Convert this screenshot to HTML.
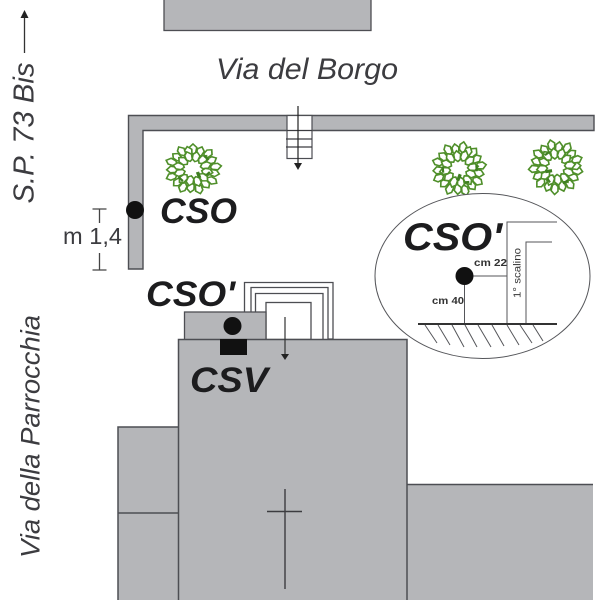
<!DOCTYPE html>
<html><head><meta charset="utf-8"><style>
html,body{margin:0;padding:0;background:#fff;width:600px;height:600px;overflow:hidden}
svg{display:block}
text{font-family:"Liberation Sans",sans-serif}
</style></head><body>
<svg width="600" height="600" viewBox="0 0 600 600" xmlns="http://www.w3.org/2000/svg">
<defs>
<path id="lf" d="M0 -5 L3.4 -1.5 L2.4 3.5 L0 5 L-2.8 2.5 L-3 -2 Z" fill="#fff" stroke="#4f8f2a" stroke-width="1.5"/>
<g id="tree">
<use href="#lf" transform="rotate(0) translate(0 -20)"/><use href="#lf" transform="rotate(20) translate(0 -18.5)"/><use href="#lf" transform="rotate(41) translate(0 -20.5)"/><use href="#lf" transform="rotate(62) translate(0 -18.5)"/><use href="#lf" transform="rotate(83) translate(0 -20.5)"/><use href="#lf" transform="rotate(102) translate(0 -19)"/><use href="#lf" transform="rotate(124) translate(0 -20.5)"/><use href="#lf" transform="rotate(143) translate(0 -18.5)"/><use href="#lf" transform="rotate(165) translate(0 -20.5)"/><use href="#lf" transform="rotate(186) translate(0 -18.5)"/><use href="#lf" transform="rotate(206) translate(0 -20.5)"/><use href="#lf" transform="rotate(226) translate(0 -19)"/><use href="#lf" transform="rotate(248) translate(0 -20.5)"/><use href="#lf" transform="rotate(268) translate(0 -18.5)"/><use href="#lf" transform="rotate(290) translate(0 -20.5)"/><use href="#lf" transform="rotate(310) translate(0 -18.5)"/><use href="#lf" transform="rotate(330) translate(0 -20.5)"/><use href="#lf" transform="rotate(347) translate(0 -18)"/>
<use href="#lf" transform="rotate(12) translate(0 -12.5)"/><use href="#lf" transform="rotate(42) translate(0 -13)"/><use href="#lf" transform="rotate(72) translate(0 -12)"/><use href="#lf" transform="rotate(102) translate(0 -13)"/><use href="#lf" transform="rotate(132) translate(0 -12.5)"/><use href="#lf" transform="rotate(162) translate(0 -13)"/><use href="#lf" transform="rotate(192) translate(0 -12)"/><use href="#lf" transform="rotate(222) translate(0 -13)"/><use href="#lf" transform="rotate(252) translate(0 -12.5)"/><use href="#lf" transform="rotate(282) translate(0 -13)"/><use href="#lf" transform="rotate(312) translate(0 -12)"/><use href="#lf" transform="rotate(342) translate(0 -13)"/>
<path d="M4 3 L6 9" stroke="#3f7f22" stroke-width="3" fill="none"/>
<path d="M10 -13 L14 -9 M-13 8 L-9 12 M12 6 L15 3" stroke="#3f7f22" stroke-width="2" fill="none"/>
</g>
</defs>
<rect width="600" height="600" fill="#fff"/>

<!-- top building -->
<rect x="164" y="-3" width="207" height="33.5" fill="#b5b6b9" stroke="#4d4e53" stroke-width="1.3"/>
<text x="216" y="79" font-size="30" font-style="italic" fill="#3c3c40" textLength="182" lengthAdjust="spacingAndGlyphs">Via del Borgo</text>

<!-- wall -->
<path d="M594 115.5 H128.5 V269 H143 V130.5 H594 Z" fill="#b5b6b9" stroke="#4d4e53" stroke-width="1.4"/>
<!-- entry steps -->
<rect x="287" y="115.5" width="25" height="43" fill="#fff" stroke="#4d4e53" stroke-width="1.2"/>
<path d="M287 130.5 H312 M286 139 H312 M286 147 H312" stroke="#3c3c40" stroke-width="1.2" fill="none"/>
<path d="M298 106 V164" stroke="#222" stroke-width="1.2"/>
<path d="M294 163 H302 L298 170 Z" fill="#222"/>

<!-- trees -->
<use href="#tree" transform="translate(193 169) scale(1.12 1.0)"/>
<use href="#tree" transform="translate(459 169) rotate(40) scale(1.08)"/>
<use href="#tree" transform="translate(556 167) rotate(100) scale(1.08)"/>

<!-- CSO -->
<circle cx="135" cy="210" r="9" fill="#111"/>
<text x="160" y="223" font-size="35" font-weight="bold" font-style="italic" fill="#1c1c1e" textLength="77" lengthAdjust="spacingAndGlyphs">CSO</text>

<!-- left labels -->
<text transform="translate(33.5 203.5) rotate(-90)" font-size="29" font-style="italic" fill="#3c3c40" textLength="141" lengthAdjust="spacingAndGlyphs">S.P. 73 Bis</text>
<path d="M24.5 53 V16" stroke="#333" stroke-width="1.3"/>
<path d="M20.5 18 L24.5 10 L28.5 18 Z" fill="#222"/>
<text transform="translate(39.5 558) rotate(-90)" font-size="27" font-style="italic" fill="#3c3c40" textLength="243" lengthAdjust="spacingAndGlyphs">Via della Parrocchia</text>
<text x="63" y="244" font-size="23" fill="#3c3c40" textLength="59" lengthAdjust="spacingAndGlyphs">m 1,4</text>
<path d="M92.5 209 H106.5 M99.5 209 V223 M99.5 253 V270 M92.5 270 H106.5" stroke="#444" stroke-width="1.3" fill="none"/>

<!-- side and right buildings -->
<rect x="118" y="427" width="61" height="180" fill="#b5b6b9" stroke="#4d4e53" stroke-width="1.5"/>
<path d="M118 513 H178" stroke="#4d4e53" stroke-width="1.5"/>
<path d="M593 484.5 H407 V600 H593 Z" fill="#b5b6b9"/>
<path d="M593 484.5 H407" stroke="#4d4e53" stroke-width="1.5"/>

<!-- stepped entry -->
<path d="M244.5 339 V282.5 H333 V339 H328 V287.5 H251 V312 M255.5 312 V293.5 H323 V339" fill="#fff" stroke="#4d4e53" stroke-width="1.3"/>
<rect x="266" y="302.5" width="45" height="37" fill="#fff" stroke="#4d4e53" stroke-width="1.3"/>
<rect x="184.5" y="312" width="81.5" height="28" fill="#b5b6b9" stroke="#4d4e53" stroke-width="1.3"/>

<!-- main building -->
<rect x="178.5" y="339.5" width="228.5" height="268" fill="#b5b6b9" stroke="#4d4e53" stroke-width="1.5"/>
<circle cx="232.5" cy="326" r="9" fill="#111"/>
<rect x="220" y="339" width="27" height="16" fill="#111"/>
<path d="M285 317 V355" stroke="#333" stroke-width="1.2"/>
<path d="M281 354 H289 L285 360 Z" fill="#222"/>
<path d="M285 489 V589 M267 511.5 H302" stroke="#3c3c40" stroke-width="1.4"/>

<text x="146" y="306" font-size="35" font-weight="bold" font-style="italic" fill="#1c1c1e" textLength="89" lengthAdjust="spacingAndGlyphs">CSO'</text>
<text x="190" y="392" font-size="35" font-weight="bold" font-style="italic" fill="#1c1c1e" textLength="78" lengthAdjust="spacingAndGlyphs">CSV</text>

<!-- inset -->
<ellipse cx="482.5" cy="276" rx="107.5" ry="82.5" fill="#fff" stroke="#55565a" stroke-width="1"/>
<text x="403" y="250" font-size="39" font-weight="bold" font-style="italic" fill="#1c1c1e" textLength="99" lengthAdjust="spacingAndGlyphs">CSO'</text>
<path d="M557 222 H507 V324 M552 242 H526 V324 M464.5 276 V324 M464.5 276 H507" stroke="#55565a" stroke-width="1" fill="none"/>
<path d="M418 324 H557" stroke="#333" stroke-width="2"/>
<path d="M425 325 L437 343 M438 325 L450 345 M452 325 L464 347 M465 325 L477 347 M478 325 L491 347 M492 325 L504 346 M507 325 L519 345 M520 325 L532 343 M533 325 L543 341" stroke="#55565a" stroke-width="1" fill="none"/>
<circle cx="464.5" cy="276" r="9" fill="#111"/>
<text x="474" y="266" font-size="10.5" font-weight="bold" fill="#333" textLength="33" lengthAdjust="spacingAndGlyphs">cm 22</text>
<text x="432" y="304" font-size="10.5" font-weight="bold" fill="#333" textLength="32" lengthAdjust="spacingAndGlyphs">cm 40</text>
<text transform="translate(520.5 298) rotate(-90)" font-size="10.5" fill="#333" textLength="50" lengthAdjust="spacingAndGlyphs">1° scalino</text>
</svg>
</body></html>
